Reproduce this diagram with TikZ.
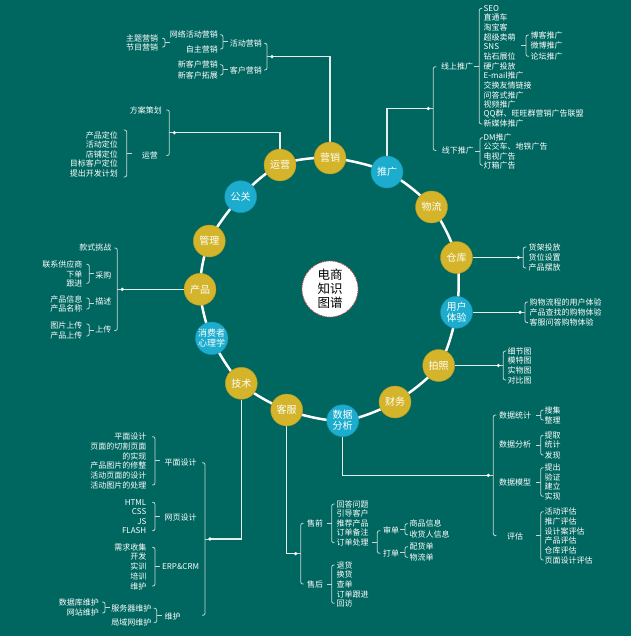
\documentclass[tikz,border=0pt]{standalone}
\usepackage{fontspec}
\setmainfont{Noto Sans CJK SC}
\usetikzlibrary{calc}
\definecolor{bgc}{RGB}{0,102,96}
\definecolor{goldc}{RGB}{212,180,42}
\definecolor{bluec}{RGB}{28,173,206}
\definecolor{brkc}{RGB}{200,214,214}
\definecolor{linec}{RGB}{228,236,236}
\definecolor{ctrc}{RGB}{205,80,80}
\pgfdeclarelayer{bglayer}
\pgfdeclarelayer{linelayer}
\pgfsetlayers{bglayer,linelayer,main}
\tikzset{
 lb/.style={text=white, font=\fontsize{8}{9}\selectfont, inner sep=1pt},
 lbw/.style={lb, anchor=west},
 lbe/.style={lb, anchor=east},
 gnode/.style={circle, fill=goldc, draw=goldc!85!black, line width=0.4pt, minimum size=32pt, inner sep=0pt, text=white, font=\fontsize{10}{11}\selectfont, align=center},
 bnode/.style={gnode, fill=bluec, draw=bluec!85!black},
 ctrnode/.style={circle, fill=white, draw=ctrc, dash pattern=on 1.5pt off 1pt, line width=0.8pt, minimum size=56pt, inner sep=0pt, text=black, font=\fontsize{12.5}{14}\selectfont, align=center},
 brk/.style={draw=brkc, line width=0.8pt},
 conn/.style={draw=linec, line width=1.4pt},
 ring/.style={draw=white, line width=2.5pt},
}
% bracket with children on the left (tick points right)
\newcommand\mybrL[4]{%
  \draw[brk,rounded corners=2pt] ({#2-3},#3) -- (#2,#3) -- (#2,#4) -- ({#2-3},#4);
  \coordinate (#1) at ({#2+5},{(#3+#4)/2});
  \draw[brk] (#2,{(#3+#4)/2}) -- (#1);
}
% bracket with children on the right (tick points left)
\newcommand\mybrR[4]{%
  \draw[brk,rounded corners=2pt] ({#2+3},#3) -- (#2,#3) -- (#2,#4) -- ({#2+3},#4);
  \coordinate (#1) at ({#2-5},{(#3+#4)/2});
  \draw[brk] (#2,{(#3+#4)/2}) -- (#1);
}
\begin{document}
\begin{tikzpicture}[x=1pt,y=-1pt]
\begin{pgfonlayer}{bglayer}
\fill[bgc] (0,0) rectangle (631,636);
\end{pgfonlayer}
\useasboundingbox (0,0) rectangle (631,636);

% ring nodes
\node[gnode] (yx) at (330,158) {营销};
\node[bnode] (tg) at (387,172) {推广};
\node[gnode] (wl) at (431.5,207) {物流};
\node[gnode] (ck) at (456.5,257.5) {仓库};
\node[bnode] (yh) at (456.5,312.3) {用户\\体验};
\node[gnode] (pz) at (438.7,365.5) {拍照};
\node[gnode] (cw) at (395,402) {财务};
\node[bnode] (sj) at (342.7,420.7) {数据\\分析};
\node[gnode] (kf) at (286.7,410) {客服};
\node[gnode] (js) at (241.3,383.3) {技术};
\node[bnode,font=\fontsize{9}{10}\selectfont] (xf) at (211.7,338.3) {消费者\\心理学};
\node[gnode] (cp) at (200,289.3) {产品};
\node[gnode] (gl) at (209.3,241) {管理};
\node[bnode] (gg) at (240.7,196.7) {公关};
\node[gnode] (yy) at (280,165) {运营};
\node[ctrnode] (ct) at (330,289) {电商\\知识\\图谱};

% brackets (top level)
\mybrL{yxB}{267}{43.3}{70}
\mybrR{tgB}{433.3}{66.7}{150.5}
\mybrL{yyB}{169.3}{110}{155.5}
\mybrR{ckB}{523.3}{247}{268}
\mybrR{yhB}{525}{302}{322.6}
\mybrR{pzB}{503.3}{351}{380}
\mybrR{sjB}{493.3}{415}{535.6}
\mybrR{kfB}{300.7}{523.3}{584}
\mybrL{jsB}{205}{462.7}{615.3}
\mybrL{cpB}{117.3}{248}{330.6}

\begin{pgfonlayer}{linelayer}
\draw[ring] plot[smooth cycle] coordinates {(yx) (tg) (wl) (ck) (yh) (pz) (cw) (sj) (kf) (js) (xf) (cp) (gl) (gg) (yy)};
\draw[conn] (yx.north) |- (yxB);
\draw[conn] (tg.north) |- (tgB);
\draw[conn] (yy.north) |- (yyB);
\draw[conn] (ck.east) -- (ckB);
\draw[conn] (yh.east) -- (yhB);
\draw[conn] (pz.east) -- (pzB);
\draw[conn] (sj.south) |- (sjB);
\draw[conn] (kf.south) |- (kfB);
\draw[conn] (js.south) |- (jsB);
\draw[conn] (cp.west) -- (cpB);
\end{pgfonlayer}
\foreach \c in {yxB,tgB,yyB,ckB,yhB,pzB,sjB,kfB,jsB,cpB} \fill[white] (\c) circle (1.8);

% ===== 营销 =====
\node[lbe] (hdyx) at (263,43.3) {活动营销};
\node[lbe] (khyx) at (263,70) {客户营销};
\mybrL{hdB}{223}{34.7}{49}
\node[lbe] (wlhd) at (219,34.7) {网络活动营销};
\node[lbe] (zzyx) at (219,49) {自主营销};
\mybrL{wlB}{165}{38.3}{47}
\node[lbe] (ztyx) at (159.3,38.3) {主题营销};
\node[lbe] (jmyx) at (159.3,47) {节目营销};
\mybrL{khB}{223}{64.7}{75}
\node[lbe] (xkh1) at (219,64.7) {新客户营销};
\node[lbe] (xkh2) at (219,75) {新客户拓展};

% ===== 推广 =====
\node[lbw] (xs) at (440,66.7) {线上推广};
\node[lbw] (xx) at (440.7,150.7) {线下推广};
\mybrR{xsB}{479.3}{8.3}{124}
\node[lbw] (s1) at (482.5,8.3) {SEO};
\node[lbw] (s2) at (482.5,17.94) {直通车};
\node[lbw] (s3) at (482.5,27.58) {淘宝客};
\node[lbw] (s4) at (482.5,37.22) {超级卖萌};
\node[lbw] (s5) at (482.5,46.86) {SNS};
\node[lbw] (s6) at (482.5,56.5) {钻石展位};
\node[lbw] (s7) at (482.5,66.14) {硬广投放};
\node[lbw] (s8) at (482.5,75.78) {E-mail推广};
\node[lbw] (s9) at (482.5,85.42) {交换友情链接};
\node[lbw] (s10) at (482.5,95.06) {问答式推广};
\node[lbw] (s11) at (482.5,104.7) {视频推广};
\node[lbw] (s12) at (482.5,114.34) {QQ群、旺旺群营销广告联盟};
\node[lbw] (s13) at (482.5,123.98) {新媒体推广};
\mybrR{snsB}{526}{35}{56.3}
\node[lbw] (sn1) at (529.3,35) {博客推广};
\node[lbw] (sn2) at (529.3,45.7) {微博推广};
\node[lbw] (sn3) at (529.3,56.3) {论坛推广};
\mybrR{xxB}{480}{137.7}{165.3}
\node[lbw] (x1) at (482.5,137.7) {DM推广};
\node[lbw] (x2) at (482.5,146.9) {公交车、地铁广告};
\node[lbw] (x3) at (482.5,156.1) {电视广告};
\node[lbw] (x4) at (482.5,165.3) {灯箱广告};

% ===== 运营 =====
\node[lbe] (fach) at (163,110) {方案策划};
\node[lbe] (yy2) at (159,155.7) {运营};
\mybrL{yy2B}{126.7}{130}{177}
\node[lbe] (d1) at (119,135.3) {产品定位};
\node[lbe] (d2) at (119,144.7) {活动定位};
\node[lbe] (d3) at (119,154.3) {店铺定位};
\node[lbe] (d4) at (119,163.7) {目标客户定位};
\node[lbe] (d5) at (119,173.3) {提出开发计划};

% ===== 仓库 =====
\node[lbw] (c1) at (527.5,247) {货架投放};
\node[lbw] (c2) at (527.5,257.3) {货位设置};
\node[lbw] (c3) at (527.5,267.7) {产品摆放};

% ===== 用户体验 =====
\node[lbw] (u1) at (528.5,302) {购物流程的用户体验};
\node[lbw] (u2) at (528.5,312.3) {产品查找的购物体验};
\node[lbw] (u3) at (528.5,322.7) {客服问答购物体验};

% ===== 拍照 =====
\node[lbw] (p1) at (506.5,351) {细节图};
\node[lbw] (p2) at (506.5,360.7) {模特图};
\node[lbw] (p3) at (506.5,370.5) {实物图};
\node[lbw] (p4) at (506.5,380) {对比图};

% ===== 数据分析 =====
\node[lb] (sa) at (515,415.7) {数据统计};
\node[lb] (sb) at (515,444.3) {数据分析};
\node[lb] (sc) at (515,482.3) {数据模型};
\node[lb] (sd) at (515,536.7) {评估};
\mybrR{saB}{540.7}{410}{420}
\node[lbw] (sa1) at (543.5,410) {搜集};
\node[lbw] (sa2) at (543.5,420) {整理};
\mybrR{sbB}{540.7}{435.3}{455}
\node[lbw] (sb1) at (543.5,435.3) {提取};
\node[lbw] (sb2) at (543.5,444.7) {统计};
\node[lbw] (sb3) at (543.5,455) {发现};
\mybrR{scB}{540.7}{467.7}{496.3}
\node[lbw] (sc1) at (543.5,467.7) {提出};
\node[lbw] (sc2) at (543.5,477) {验证};
\node[lbw] (sc3) at (543.5,486.7) {建立};
\node[lbw] (sc4) at (543.5,496.3) {实现};
\mybrR{sdB}{540.7}{511.7}{560}
\node[lbw] (sd1) at (543.5,511.7) {活动评估};
\node[lbw] (sd2) at (543.5,521.4) {推广评估};
\node[lbw] (sd3) at (543.5,531) {设计案评估};
\node[lbw] (sd4) at (543.5,540.7) {产品评估};
\node[lbw] (sd5) at (543.5,550.3) {仓库评估};
\node[lbw] (sd6) at (543.5,560) {页面设计评估};

% ===== 客服 =====
\node[lb] (sq) at (315,523.3) {售前};
\node[lb] (sh) at (315,584) {售后};
\mybrR{sqB}{331.7}{504}{542.7}
\node[lbw] (q1) at (335.5,504) {回答问题};
\node[lbw] (q2) at (335.5,513.7) {引导客户};
\node[lbw] (q3) at (335.5,523.3) {推荐产品};
\node[lbw] (q4) at (335.5,532.8) {订单备注};
\node[lbw] (q5) at (335.5,542.7) {订单处理};
\mybrR{ddB}{377.3}{530.7}{553.3}
\node[lbw] (dd1) at (382,530.7) {审单};
\node[lbw] (dd2) at (382,553.3) {打单};
\mybrR{sdnB}{405}{523.7}{534.7}
\node[lbw] (sdn1) at (408.5,523.7) {商品信息};
\node[lbw] (sdn2) at (408.5,534.7) {收货人信息};
\mybrR{ddnB}{405}{546.7}{557.3}
\node[lbw] (ddn1) at (408.5,546.7) {配货单};
\node[lbw] (ddn2) at (408.5,557.3) {物流单};
\mybrR{shB}{331.7}{565}{603.3}
\node[lbw] (h1) at (335.5,565) {退货};
\node[lbw] (h2) at (335.5,574.7) {换货};
\node[lbw] (h3) at (335.5,584.3) {查单};
\node[lbw] (h4) at (335.5,594) {订单跟进};
\node[lbw] (h5) at (335.5,603.3) {回访};

% ===== 技术 =====
\node[lbw] (pm) at (163.5,462.7) {平面设计};
\node[lbw] (wy) at (163.5,517.7) {网页设计};
\node[lbw] (er) at (161,566.7) {ERP\&CRM};
\node[lbw] (wh) at (163.5,616.7) {维护};
\mybrL{pmB}{155}{436.7}{485}
\node[lbe] (pm1) at (147.5,436.7) {平面设计};
\node[lbe] (pm2) at (147.5,446.3) {页面的切割页面};
\node[lbe] (pm3) at (147.5,456) {的实现};
\node[lbe] (pm4) at (147.5,465.7) {产品图片的修整};
\node[lbe] (pm5) at (147.5,475.3) {活动页面的设计};
\node[lbe] (pm6) at (147.5,485) {活动图片的处理};
\mybrL{wyB}{155}{502.3}{530.7}
\node[lbe] (wy1) at (147.5,502.3) {HTML};
\node[lbe] (wy2) at (147.5,511.7) {CSS};
\node[lbe] (wy3) at (147.5,521.3) {JS};
\node[lbe] (wy4) at (147.5,530.7) {FLASH};
\mybrL{erB}{155}{547.3}{586}
\node[lbe] (er1) at (147.5,547.3) {需求收集};
\node[lbe] (er2) at (147.5,556.7) {开发};
\node[lbe] (er3) at (147.5,566.7) {实训};
\node[lbe] (er4) at (147.5,576) {培训};
\node[lbe] (er5) at (147.5,586) {维护};
\mybrL{whB}{156.7}{608.3}{622.7}
\node[lbe] (wh1) at (152.5,608.3) {服务器维护};
\node[lbe] (wh2) at (152.5,622.7) {局域网维护};
\mybrL{fwB}{105}{602}{613}
\node[lbe] (fw1) at (100,602.7) {数据库维护};
\node[lbe] (fw2) at (100,612.7) {网站维护};

% ===== 产品 =====
\node[lbe] (k1) at (112.5,247.7) {款式挑战};
\node[lbe] (k2) at (112.5,275) {采购};
\node[lbe] (k3) at (112.5,301.7) {描述};
\node[lbe] (k4) at (112.5,329.3) {上传};
\mybrL{cgB}{89.3}{264.3}{283.3}
\node[lbe] (cg1) at (83.5,264.3) {联系供应商};
\node[lbe] (cg2) at (83.5,274) {下单};
\node[lbe] (cg3) at (83.5,283.3) {跟进};
\mybrL{msB}{89.3}{298}{309}
\node[lbe] (ms1) at (83.5,299) {产品信息};
\node[lbe] (ms2) at (83.5,308.3) {产品名称};
\mybrL{scpB}{89.3}{324}{336}
\node[lbe] (sc1x) at (83.5,325) {图片上传};
\node[lbe] (sc2x) at (83.5,335) {产品上传};
\end{tikzpicture}
\end{document}
